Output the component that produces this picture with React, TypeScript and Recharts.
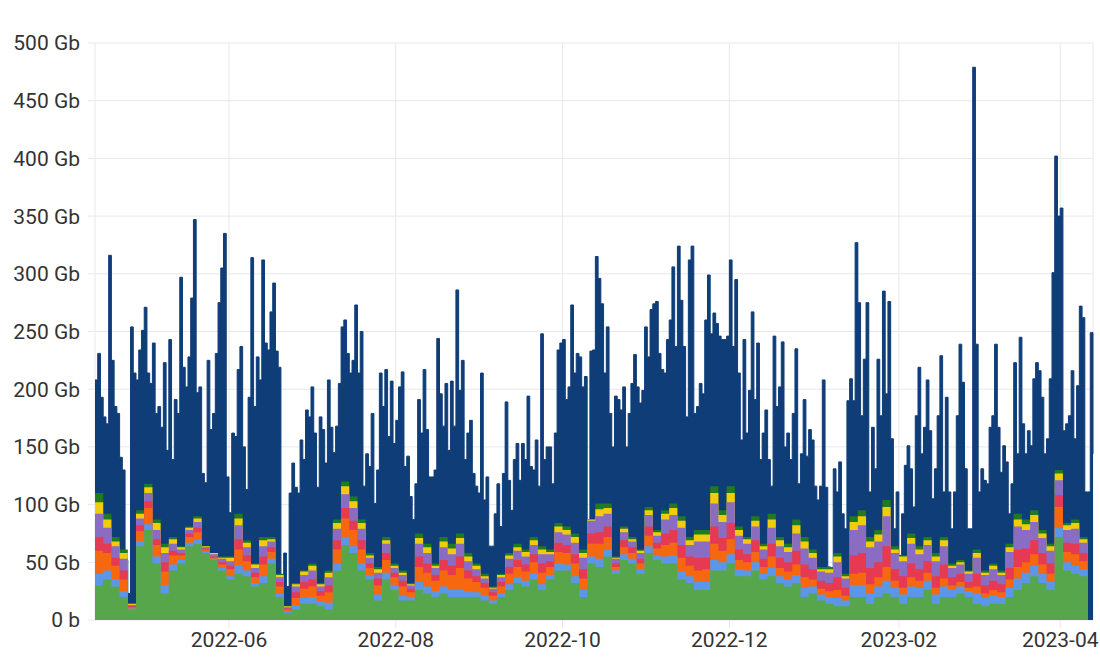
import React from 'react';
import { AreaChart, Area, XAxis, YAxis, CartesianGrid } from 'recharts';

// daily totals (Gb), from 2022-04-13
const totalGb = [
  208, 231, 193, 176, 170, 316, 225, 185, 179, 141,
  130, 52, 23, 254, 214, 208, 234, 251, 271, 214,
  205, 240, 179, 185, 167, 223, 147, 243, 139, 191,
  179, 297, 219, 202, 228, 279, 347, 197, 202, 127,
  119, 225, 165, 179, 231, 275, 305, 335, 124, 93,
  162, 159, 217, 237, 150, 113, 193, 314, 185, 228,
  208, 312, 240, 234, 267, 292, 233, 219, 35, 58,
  29, 110, 136, 115, 110, 156, 139, 182, 176, 202,
  162, 115, 176, 165, 136, 208, 167, 145, 168, 205,
  254, 260, 231, 214, 225, 273, 214, 250, 116, 144,
  133, 179, 101, 130, 214, 185, 217, 159, 207, 153,
  173, 202, 215, 133, 142, 107, 87, 118, 191, 162,
  217, 165, 124, 124, 130, 244, 196, 168, 205, 147,
  207, 168, 286, 199, 225, 139, 162, 173, 127, 116,
  110, 214, 104, 124, 64, 64, 92, 118, 81, 127,
  189, 121, 95, 139, 153, 121, 153, 139, 194, 133,
  130, 156, 116, 248, 139, 150, 150, 118, 162, 234,
  240, 243, 191, 202, 273, 214, 231, 228, 202, 211,
  87, 233, 234, 315, 296, 274, 214, 254, 179, 150,
  194, 191, 182, 202, 150, 179, 205, 230, 202, 188,
  199, 254, 228, 269, 274, 276, 231, 217, 214, 243,
  260, 306, 237, 324, 277, 237, 176, 312, 324, 179,
  185, 205, 196, 260, 299, 248, 266, 257, 246, 243,
  243, 246, 312, 237, 295, 214, 156, 243, 162, 199,
  267, 191, 240, 139, 162, 182, 139, 116, 246, 185,
  202, 241, 150, 162, 139, 179, 235, 118, 144, 191,
  142, 165, 156, 116, 104, 116, 208, 115, 46, 39,
  131, 111, 137, 92, 79, 190, 209, 190, 327, 275,
  177, 226, 275, 111, 167, 131, 226, 177, 285, 196,
  276, 157, 79, 111, 56, 92, 134, 151, 131, 98,
  177, 219, 144, 167, 208, 164, 105, 131, 177, 229,
  111, 193, 111, 79, 111, 177, 239, 206, 131, 79,
  79, 479, 239, 111, 131, 121, 118, 167, 177, 239,
  167, 128, 151, 137, 92, 118, 223, 144, 245, 170,
  144, 164, 151, 209, 223, 216, 193, 144, 157, 209,
  301, 402, 350, 357, 164, 170, 177, 216, 157, 203,
  272, 262, 111, 111, 249, 144,
];

// smaller series, read every 3rd day (Gb)
const greenGb = [
  30, 35, 29, 20, 9, 64, 78, 49, 23, 43, 49, 64, 66, 58, 52, 43, 35, 40, 38, 29,
  32, 49, 20, 6, 9, 14, 14, 12, 9, 43, 65, 58, 43, 35, 17, 35, 26, 17, 17, 26,
  23, 20, 23, 20, 20, 20, 20, 17, 14, 20, 26, 32, 29, 35, 26, 35, 43, 43, 32, 20,
  49, 46, 55, 40, 52, 49, 40, 58, 52, 49, 49, 35, 32, 26, 26, 43, 43, 49, 38, 38,
  43, 35, 38, 32, 29, 32, 20, 23, 17, 14, 12, 12, 20, 20, 14, 20, 23, 20, 14, 20,
  20, 26, 14, 20, 20, 23, 20, 14, 12, 14, 14, 20, 26, 32, 38, 32, 26, 72, 43, 40,
  38, 32,
];
const lightBlueGb = [
  10, 8, 6, 5, 1, 4, 5, 6, 7, 5, 3, 3, 4, 1, 1, 2, 3, 7, 5, 3,
  6, 4, 3, 1, 4, 5, 6, 4, 6, 6, 7, 6, 6, 4, 5, 6, 4, 4, 3, 7,
  6, 5, 6, 6, 6, 5, 4, 4, 3, 3, 5, 5, 5, 5, 5, 4, 6, 5, 6, 6,
  6, 7, 6, 3, 5, 4, 4, 6, 4, 6, 7, 7, 6, 7, 7, 9, 7, 8, 6, 5,
  7, 5, 7, 6, 6, 7, 8, 6, 5, 6, 7, 5, 10, 10, 9, 9, 11, 8, 8, 9,
  8, 8, 8, 9, 6, 6, 5, 9, 7, 7, 6, 8, 10, 9, 9, 8, 7, 8, 7, 7,
  6, 2,
];
const orangeGb = [
  20, 15, 12, 10, 1, 9, 14, 10, 12, 8, 4, 5, 6, 2, 1, 3, 6, 14, 8, 5,
  10, 6, 6, 2, 6, 8, 9, 5, 9, 12, 16, 14, 12, 6, 8, 11, 7, 8, 4, 13,
  12, 9, 14, 13, 19, 11, 9, 7, 4, 6, 9, 9, 8, 10, 10, 7, 10, 10, 11, 10,
  11, 13, 11, 3, 6, 5, 5, 9, 6, 10, 11, 12, 9, 10, 11, 14, 10, 13, 8, 7,
  9, 6, 10, 7, 7, 9, 9, 6, 5, 5, 7, 4, 10, 11, 8, 8, 12, 6, 6, 8,
  6, 7, 6, 7, 4, 4, 3, 6, 4, 5, 4, 7, 10, 9, 10, 8, 7, 18, 9, 10,
  7, 2,
];
const redGb = [
  12, 8, 7, 8, 1, 5, 6, 5, 8, 4, 2, 3, 4, 1, 1, 2, 3, 9, 5, 4,
  7, 4, 4, 1, 5, 6, 6, 4, 6, 8, 9, 8, 8, 4, 6, 6, 4, 5, 3, 9,
  8, 5, 9, 8, 10, 7, 5, 4, 3, 4, 6, 6, 6, 7, 8, 5, 8, 7, 8, 8,
  9, 10, 9, 3, 6, 5, 4, 8, 5, 10, 11, 11, 8, 11, 10, 15, 11, 14, 9, 7,
  10, 7, 11, 9, 8, 12, 11, 9, 7, 7, 11, 7, 16, 17, 14, 13, 18, 10, 10, 12,
  10, 10, 10, 12, 7, 7, 5, 11, 7, 8, 7, 10, 15, 12, 12, 10, 9, 10, 8, 9,
  7, 3,
];
const purpleGb = [
  20, 14, 10, 10, 1, 6, 7, 8, 8, 6, 3, 3, 5, 1, 2, 3, 4, 12, 7, 4,
  9, 5, 4, 1, 5, 6, 8, 4, 7, 10, 12, 11, 10, 5, 5, 8, 4, 5, 3, 11,
  9, 6, 11, 10, 11, 8, 6, 4, 3, 4, 7, 8, 7, 8, 8, 6, 9, 9, 10, 10,
  11, 14, 11, 4, 7, 5, 5, 10, 6, 12, 13, 15, 10, 14, 14, 20, 14, 18, 12, 9,
  12, 8, 14, 10, 9, 15, 14, 10, 8, 9, 13, 8, 22, 24, 18, 18, 26, 14, 13, 17,
  13, 14, 13, 16, 8, 8, 7, 14, 9, 10, 8, 14, 20, 16, 16, 13, 11, 13, 11, 13,
  9, 2,
];
const yellowGb = [
  10, 7, 4, 5, 1, 4, 5, 6, 5, 4, 2, 2, 3, 1, 1, 1, 3, 6, 4, 3,
  5, 2, 2, 1, 2, 3, 4, 2, 4, 5, 7, 6, 5, 2, 3, 3, 2, 2, 1, 5,
  5, 2, 5, 5, 5, 4, 3, 2, 1, 2, 3, 3, 4, 4, 4, 2, 5, 4, 5, 4,
  5, 6, 5, 1, 3, 2, 2, 4, 3, 5, 6, 6, 4, 6, 6, 9, 6, 8, 5, 4,
  5, 3, 7, 5, 4, 7, 6, 4, 2, 3, 5, 2, 7, 8, 5, 6, 8, 3, 4, 5,
  4, 4, 4, 5, 2, 2, 2, 4, 2, 3, 2, 4, 6, 5, 6, 4, 4, 6, 4, 5,
  3, 1,
];
const darkGreenGb = [
  8, 5, 4, 3, 0, 3, 3, 3, 3, 2, 1, 1, 2, 0, 0, 1, 1, 4, 2, 1,
  3, 2, 1, 0, 1, 1, 2, 1, 2, 3, 4, 4, 3, 2, 2, 3, 2, 2, 1, 4,
  3, 2, 4, 4, 4, 3, 2, 2, 1, 1, 2, 3, 2, 3, 3, 2, 3, 3, 3, 3,
  4, 5, 4, 1, 2, 2, 1, 3, 2, 3, 4, 4, 3, 4, 4, 6, 4, 6, 3, 2,
  4, 2, 5, 3, 3, 5, 4, 3, 2, 2, 3, 2, 5, 5, 4, 4, 6, 3, 3, 4,
  3, 3, 3, 3, 2, 2, 1, 3, 2, 2, 2, 3, 5, 4, 4, 3, 2, 3, 2, 3,
  2, 1,
];

const monthTicks = ['2022-06', '2022-08', '2022-10', '2022-12', '2023-02', '2023-04'];
const yTicks = [0, 50, 100, 150, 200, 250, 300, 350, 400, 450, 500];

const DAY = 86400000;
const START = Date.UTC(2022, 3, 13);
const STEP = 3;

// bottom to top
const layers = [
  { key: 'green', values: greenGb, color: '#58a64c' },
  { key: 'lightBlue', values: lightBlueGb, color: '#5b97e6' },
  { key: 'orange', values: orangeGb, color: '#f5680f' },
  { key: 'red', values: redGb, color: '#e63a52' },
  { key: 'purple', values: purpleGb, color: '#8a6cc2' },
  { key: 'yellow', values: yellowGb, color: '#f2cb0c' },
  { key: 'darkGreen', values: darkGreenGb, color: '#1f7a22' },
];

const rows = totalGb.map((t, d) => {
  const row: any = { time: START + d * DAY, total: t };
  if (d % STEP === 0 && d / STEP < greenGb.length) {
    let acc = 0;
    layers.forEach((l) => {
      acc += l.values[d / STEP];
      row[l.key] = Math.min(acc, t);
    });
  }
  return row;
});

const tickTimes = monthTicks.map((m) => {
  const [y, mo] = m.split('-').map(Number);
  return Date.UTC(y, mo - 1, 1);
});

const fmtMonth = (v: number) => {
  const dt = new Date(v);
  return `${dt.getUTCFullYear()}-${String(dt.getUTCMonth() + 1).padStart(2, '0')}`;
};

const tickStyle = { fill: '#333', fontSize: 21, fontFamily: 'Roboto' };

export default function App() {
  return (
    <div style={{ position: 'absolute', left: 0, top: 0, background: '#fff' }}>
      <AreaChart
        width={1100}
        height={658}
        data={rows}
        margin={{ top: 43, right: 7, bottom: 8, left: 0 }}
      >
        <CartesianGrid stroke="#e8e8e8" />
        <XAxis
          dataKey="time"
          type="number"
          scale="time"
          domain={[START, START + 365 * DAY]}
          ticks={tickTimes}
          tickFormatter={fmtMonth}
          tick={tickStyle}
          axisLine={false}
          tickLine={{ stroke: '#e8e8e8' }}
          tickSize={8}
          tickMargin={4}
          height={30}
        />
        <YAxis
          domain={[0, 500]}
          ticks={yTicks}
          tickFormatter={(v: number) => (v === 0 ? '0 b' : `${v} Gb`)}
          tick={tickStyle}
          axisLine={false}
          tickLine={{ stroke: '#e8e8e8' }}
          tickSize={7}
          tickMargin={8}
          width={95}
        />
        <Area
          type="stepAfter"
          dataKey="total"
          stroke="#0f3d78"
          strokeWidth={1}
          fill="#0f3d78"
          fillOpacity={1}
          dot={false}
          activeDot={false}
          isAnimationActive={false}
        />
        {[...layers].reverse().map((l) => (
          <Area
            key={l.key}
            type="stepAfter"
            dataKey={l.key}
            connectNulls
            stroke="none"
            fill={l.color}
            fillOpacity={1}
            dot={false}
            activeDot={false}
            isAnimationActive={false}
          />
        ))}
      </AreaChart>
    </div>
  );
}
